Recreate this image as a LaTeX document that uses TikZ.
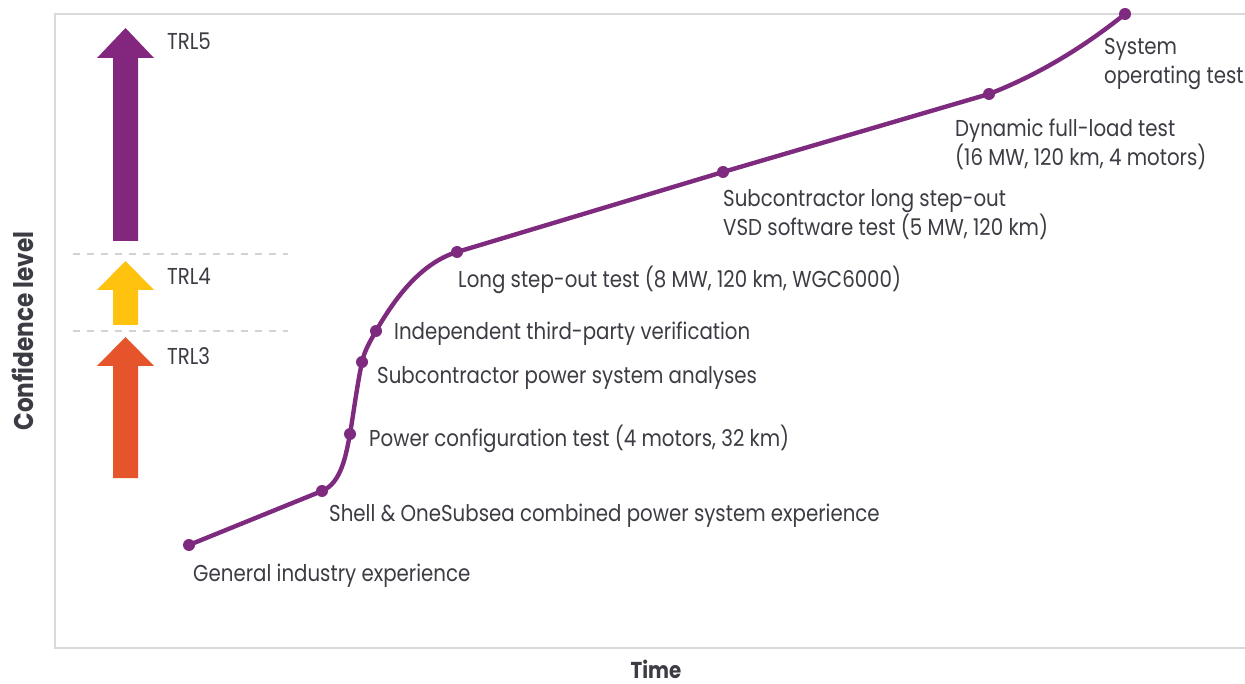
\documentclass[tikz,border=0pt]{standalone}
\usepackage{fontspec}
\setmainfont[FakeStretch=0.86]{Poppins}
\begin{document}
\definecolor{curvepurple}{HTML}{7E2A7E}
\definecolor{arrowpurple}{HTML}{82267E}
\definecolor{trlyellow}{HTML}{FFC20E}
\definecolor{trlorange}{HTML}{E5542A}
\definecolor{txtgray}{HTML}{3C3C44}
\definecolor{framegray}{HTML}{D9D9D9}
\definecolor{dashgray}{HTML}{D3D3D3}
\begin{tikzpicture}[x=1pt,y=-1pt,
  lab/.style={anchor=west,inner sep=0pt,text=txtgray,font=\fontsize{23}{29}\selectfont,align=left},
  axlab/.style={inner sep=0pt,text=txtgray,font=\fontsize{23}{27}\selectfont\bfseries},
  dot/.style={circle,fill=curvepurple,inner sep=0pt,minimum size=12pt},
  curve/.style={draw=curvepurple,line width=4.4pt},
  framel/.style={draw=framegray,line width=2pt},
  sep/.style={draw=dashgray,line width=2.4pt,dash pattern=on 7pt off 7pt}]
\useasboundingbox (0,0) rectangle (1245,684);
\fill[white] (0,0) rectangle (1245,684);
% frame
\draw[framel] (1245,14) -- (55,14) -- (55,648) -- (1245,648);
% separators
\draw[sep] (73,254) -- (288,254);
\draw[sep] (73,331) -- (288,331);
% TRL arrows
\fill[arrowpurple] (113,241) -- (113,58) -- (97,58) -- (125.5,28) -- (154,58) -- (138,58) -- (138,241) -- cycle;
\fill[trlyellow] (113,325) -- (113,290) -- (97,290) -- (125.5,261) -- (154,290) -- (138,290) -- (138,325) -- cycle;
\fill[trlorange] (113,478) -- (113,366) -- (97,366) -- (125.5,337) -- (154,366) -- (138,366) -- (138,478) -- cycle;
\node[lab] (trl5) at (167,41) {TRL5};
\node[lab] (trl4) at (167,276) {TRL4};
\node[lab] (trl3) at (167,356) {TRL3};
% curve points
\coordinate (p1) at (189,545);
\coordinate (p2) at (322,491);
\coordinate (p3) at (350,434);
\coordinate (p4) at (362,362);
\coordinate (p5) at (376,331);
\coordinate (p6) at (457,252);
\coordinate (p7) at (723,172);
\coordinate (p8) at (989,94);
\coordinate (p9) at (1125,14);
\draw[curve] (p1) -- (p2) .. controls (341.5,483) and (346,454.6) .. (p3)
  .. controls (354,410) and (357,386) .. (p4)
  .. controls (364.2,351.2) and (370.5,340.6) .. (p5)
  .. controls (395,298) and (421,263) .. (p6)
  -- (p7) -- (p8)
  .. controls (1038,75) and (1084,47) .. (p9);
\foreach \i in {1,...,9} \node[dot] (d\i) at (p\i) {};
% labels
\node[lab] (l1) at (193,576) {General industry experience};
\node[lab] (l2) at (329,516) {Shell \& OneSubsea combined power system experience};
\node[lab] (l3) at (369,439) {Power configuration test (4 motors, 32 km)};
\node[lab] (l4) at (377,378) {Subcontractor power system analyses};
\node[lab] (l5) at (394,334) {Independent third-party verification};
\node[lab] (l6) at (458,280) {Long step-out test (8 MW, 120 km, WGC6000)};
\node[lab] (l7) at (723,215) {Subcontractor long step-out\\VSD software test (5 MW, 120 km)};
\node[lab] (l8) at (955,144) {Dynamic full-load test\\(16 MW, 120 km, 4 motors)};
\node[lab] (l9) at (1104,64) {System\\operating test};
% axis labels
\node[axlab,rotate=90,font=\fontsize{27}{30}\selectfont\bfseries] (ylab) at (23,331) {Confidence level};
\node[axlab] (xlab) at (656,669) {Time};
\end{tikzpicture}
\end{document}
